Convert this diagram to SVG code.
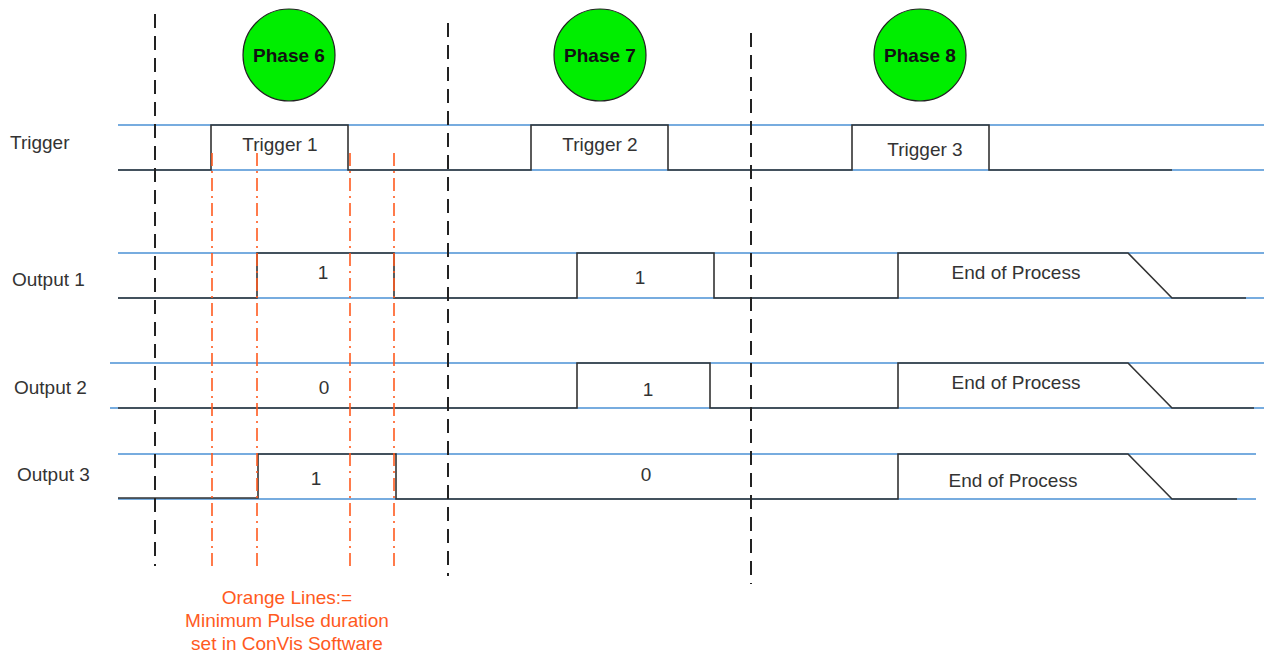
<svg xmlns="http://www.w3.org/2000/svg" width="1264" height="652" viewBox="0 0 1264 652">
<style>
.bg{fill:#fff}
.blue{stroke:#4a90d4;stroke-width:1.5;fill:none}
.sig{stroke:#333;stroke-width:1.6;fill:none}
.phase{stroke:#222;stroke-width:1.2;fill:#00ee00}
.ptxt{font-family:"Liberation Sans",Arial,sans-serif;font-size:19px;font-weight:bold;fill:#111;text-anchor:middle}
.lbl{font-family:"Liberation Sans",Arial,sans-serif;font-size:19px;fill:#333}
.mid{text-anchor:middle}
.bdash{stroke:#222;stroke-width:2;stroke-dasharray:14 8;fill:none}
.odash{stroke:#ff5a1e;stroke-width:1.6;stroke-dasharray:13 5 2 5;fill:none}
.note{font-family:"Liberation Sans",Arial,sans-serif;font-size:19px;fill:#ff5a1e;text-anchor:middle}
</style>
<rect class="bg" x="0" y="0" width="1264" height="652"/>
<g id="rails">
<line class="blue" x1="118" y1="125" x2="1264" y2="125"/>
<line class="blue" x1="118" y1="170" x2="1264" y2="170"/>
<line class="blue" x1="118" y1="253" x2="1264" y2="253"/>
<line class="blue" x1="118" y1="298" x2="1264" y2="298"/>
<line class="blue" x1="110" y1="363" x2="1264" y2="363"/>
<line class="blue" x1="110" y1="408" x2="1264" y2="408"/>
<line class="blue" x1="118" y1="454" x2="1256" y2="454"/>
<line class="blue" x1="118" y1="499" x2="1256" y2="499"/>
</g>
<g id="signals">
<polyline class="sig" points="118,170 211,170 211,125 348,125 348,170 531,170 531,125 668,125 668,170 852,170 852,125 989,125 989,170 1172,170"/>
<polyline class="sig" points="118,298 257,298 257,253 394,253 394,298 577,298 577,253 714,253 714,298 898,298 898,253 1128,253 1172,298 1246,298"/>
<polyline class="sig" points="118,408 577,408 577,363 710,363 710,408 898,408 898,363 1128,363 1172,408 1254,408"/>
<polyline class="sig" points="118,498 258,498 258,454 396,454 396,499 898,499 898,454 1128,454 1172,499 1237,499"/>
</g>
<g id="phase-lines">
<line class="bdash" x1="155" y1="14" x2="155" y2="566"/>
<line class="bdash" x1="448" y1="23" x2="448" y2="576"/>
<line class="bdash" x1="751" y1="33" x2="751" y2="584"/>
</g>
<g id="pulse-lines">
<line class="odash" x1="212" y1="153" x2="212" y2="566"/>
<line class="odash" x1="257" y1="153" x2="257" y2="566"/>
<line class="odash" x1="350" y1="153" x2="350" y2="566"/>
<line class="odash" x1="394" y1="153" x2="394" y2="566"/>
</g>
<g id="phase6"><circle class="phase" cx="289" cy="55" r="46"/><text class="ptxt" x="289" y="62">Phase 6</text></g>
<g id="phase7"><circle class="phase" cx="600" cy="55" r="46"/><text class="ptxt" x="600" y="62">Phase 7</text></g>
<g id="phase8"><circle class="phase" cx="920" cy="55" r="46"/><text class="ptxt" x="920" y="62">Phase 8</text></g>
<g id="row-labels">
<text class="lbl" x="10" y="149">Trigger</text>
<text class="lbl" x="12" y="286">Output 1</text>
<text class="lbl" x="14" y="394">Output 2</text>
<text class="lbl" x="17" y="481">Output 3</text>
</g>
<g id="pulse-labels">
<text class="lbl mid" x="280" y="151">Trigger 1</text>
<text class="lbl mid" x="600" y="151">Trigger 2</text>
<text class="lbl mid" x="925" y="156">Trigger 3</text>
<text class="lbl mid" x="323" y="279">1</text>
<text class="lbl mid" x="640" y="284">1</text>
<text class="lbl mid" x="1016" y="279">End of Process</text>
<text class="lbl mid" x="324" y="394">0</text>
<text class="lbl mid" x="648" y="396">1</text>
<text class="lbl mid" x="1016" y="389">End of Process</text>
<text class="lbl mid" x="316" y="485">1</text>
<text class="lbl mid" x="646" y="481">0</text>
<text class="lbl mid" x="1013" y="487">End of Process</text>
</g>
<g id="note">
<text class="note" x="287" y="604">Orange Lines:=</text>
<text class="note" x="287" y="627">Minimum Pulse duration</text>
<text class="note" x="287" y="650">set in ConVis Software</text>
</g>
</svg>
